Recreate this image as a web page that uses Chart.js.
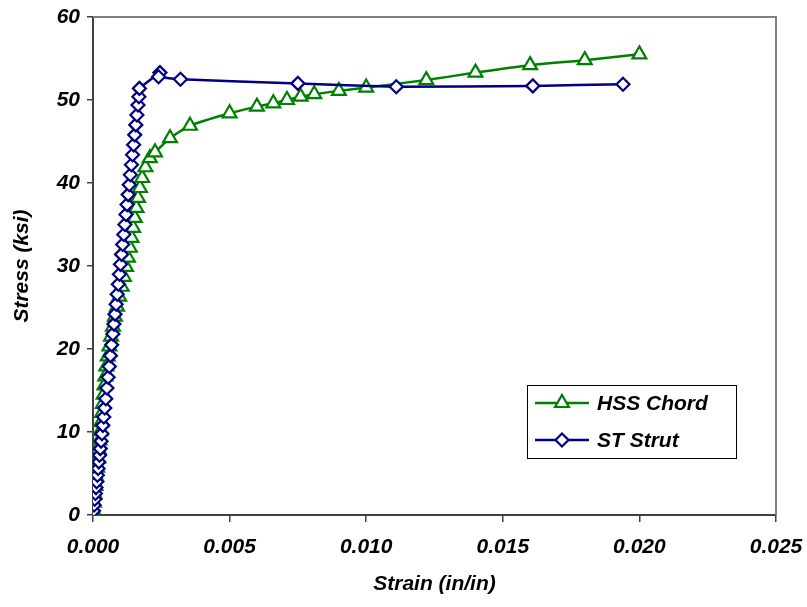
<!DOCTYPE html>
<html>
<head>
<meta charset="utf-8">
<script src="https://cdn.jsdelivr.net/npm/chart.js@4.4.1/dist/chart.umd.min.js"></script>
<style>
  html, body { margin: 0; padding: 0; background: #fff; }
  #wrap { width: 807px; height: 607px; }
</style>
</head>
<body>
<div id="wrap"><canvas id="stressChart"></canvas></div>
<script>
// HSS Chord readings (strain in/in, stress ksi)
const chordStrain = [0.00000, 0.00003, 0.00006, 0.00009, 0.00012, 0.00015, 0.00018, 0.00021, 0.00024, 0.00027,
    0.00030, 0.00033, 0.00036, 0.00039, 0.00042, 0.00045, 0.00049, 0.00054, 0.00060, 0.00066,
    0.00073, 0.00080, 0.00088, 0.00096, 0.00105, 0.00113, 0.00121, 0.00128, 0.00135, 0.00141,
    0.00147, 0.00153, 0.00159, 0.00165, 0.00172, 0.00180, 0.00192, 0.00208, 0.00227, 0.00282,
    0.00355, 0.0050, 0.0060, 0.0066, 0.0071, 0.0076, 0.0081, 0.0090, 0.0100, 0.0122,
    0.0140, 0.0160, 0.0180, 0.0200];
const chordStress = [0.6, 1.5, 2.5, 3.5, 4.6, 5.7, 6.8, 7.9, 9.0, 10.1,
    11.2, 12.3, 13.4, 14.5, 15.6, 16.7, 17.9, 19.1, 20.3, 21.5,
    22.7, 23.9, 25.1, 26.3, 27.5, 28.7, 29.9, 31.0, 32.2, 33.4,
    34.6, 35.8, 37.0, 38.2, 39.4, 40.6, 41.9, 43.0, 43.7, 45.4,
    46.9, 48.4, 49.2, 49.6, 50.0, 50.4, 50.7, 51.1, 51.5, 52.4,
    53.3, 54.2, 54.8, 55.5];

// ST Strut readings
const strutStrain = [0.000017, 0.00004, 0.000063, 0.000087, 0.00011, 0.000133, 0.00016, 0.000187, 0.000213, 0.00024,
    0.000267, 0.000297, 0.000327, 0.00036, 0.000393, 0.00043, 0.000467, 0.00051, 0.000553, 0.000597,
    0.00064, 0.000683, 0.000727, 0.000767, 0.000807, 0.000847, 0.000887, 0.000927, 0.000967, 0.001007,
    0.001047, 0.001087, 0.001127, 0.001167, 0.001207, 0.001247, 0.001287, 0.001327, 0.001367, 0.001407,
    0.001447, 0.001487, 0.001527, 0.001567, 0.001607, 0.001647, 0.00168, 0.0017, 0.00245, 0.00240,
    0.0032, 0.0075, 0.0111, 0.0161, 0.0194];
const strutStress = [0.5, 1.2, 1.9, 2.6, 3.3, 4.0, 4.8, 5.6, 6.4, 7.2,
    8.0, 8.9, 9.8, 10.8, 11.8, 12.9, 14.0, 15.3, 16.6, 17.9,
    19.2, 20.5, 21.8, 23.0, 24.2, 25.4, 26.6, 27.8, 29.0, 30.2,
    31.4, 32.6, 33.8, 35.0, 36.2, 37.4, 38.6, 39.8, 41.0, 42.2,
    43.4, 44.6, 45.8, 47.0, 48.2, 49.4, 50.4, 51.4, 53.3, 52.8,
    52.5, 52.0, 51.6, 51.7, 51.9];

const seriesNames = ['HSS Chord', 'ST Strut'];
const xTicks = [0, 0.005, 0.010, 0.015, 0.020, 0.025];
const yTicks = [0, 10, 20, 30, 40, 50, 60];

const FONT = "'Liberation Sans', Arial, sans-serif";
const GREEN = '#008000';
const NAVY = '#000080';

function pairs(xs, ys) {
    return xs.map((x, i) => ({ x: x, y: ys[i] }));
}

// gray frame on the top and right of the plot area
const frameBox = {
    id: 'frameBox',
    afterDraw(chart) {
        const a = chart.chartArea;
        const ctx = chart.ctx;
        ctx.save();
        ctx.strokeStyle = '#808080';
        ctx.lineWidth = 2;
        ctx.beginPath();
        ctx.moveTo(a.left, a.top);
        ctx.lineTo(a.right, a.top);
        ctx.lineTo(a.right, a.bottom);
        ctx.stroke();
        ctx.restore();
    }
};

function drawMarker(ctx, style, r, x, y) {
    if (style === 'triangle') {
        ctx.moveTo(x, y - r);
        ctx.lineTo(x + r * 0.866, y + r * 0.5);
        ctx.lineTo(x - r * 0.866, y + r * 0.5);
        ctx.closePath();
    } else {
        ctx.moveTo(x, y - r);
        ctx.lineTo(x + r, y);
        ctx.lineTo(x, y + r);
        ctx.lineTo(x - r, y);
        ctx.closePath();
    }
}

// legend box with line + marker samples, like the spreadsheet one
const boxLegend = {
    id: 'boxLegend',
    afterDraw(chart) {
        const ctx = chart.ctx;
        const bx = 527, by = 385, bw = 209, bh = 73;
        ctx.save();
        ctx.fillStyle = '#fff';
        ctx.fillRect(bx, by, bw, bh);
        ctx.strokeStyle = '#000';
        ctx.lineWidth = 1;
        ctx.strokeRect(bx + 0.5, by + 0.5, bw, bh);
        chart.data.datasets.forEach((ds, i) => {
            const y = by + 18 + i * 37;
            ctx.strokeStyle = ds.borderColor;
            ctx.lineWidth = 2.5;
            ctx.beginPath();
            ctx.moveTo(bx + 8, y);
            ctx.lineTo(bx + 62, y);
            ctx.stroke();
            ctx.fillStyle = '#fff';
            ctx.lineWidth = ds.pointBorderWidth;
            ctx.beginPath();
            drawMarker(ctx, ds.pointStyle, ds.pointRadius, bx + 35, y);
            ctx.fill();
            ctx.stroke();
            ctx.fillStyle = '#000';
            ctx.font = 'italic bold 21px ' + FONT;
            ctx.textBaseline = 'middle';
            ctx.textAlign = 'left';
            ctx.fillText(ds.label, bx + 70, y + 1);
        });
        ctx.restore();
    }
};

const tickFont = { family: FONT, size: 21, style: 'italic', weight: 'bold' };

new Chart(document.getElementById('stressChart'), {
    type: 'scatter',
    data: {
        datasets: [{
            label: seriesNames[0],
            data: pairs(chordStrain, chordStress),
            order: 1,
            showLine: true,
            borderColor: GREEN,
            borderWidth: 2.5,
            tension: 0.2,
            pointStyle: 'triangle',
            pointRadius: 8,
            pointBorderWidth: 2.2,
            pointBackgroundColor: '#fff',
            pointBorderColor: GREEN
        }, {
            label: seriesNames[1],
            data: pairs(strutStrain, strutStress),
            order: 0,
            showLine: true,
            borderColor: NAVY,
            borderWidth: 2.5,
            tension: 0.1,
            pointStyle: 'rectRot',
            pointRadius: 6.5,
            pointBorderWidth: 2.2,
            pointBackgroundColor: '#fff',
            pointBorderColor: NAVY
        }]
    },
    options: {
        responsive: true,
        maintainAspectRatio: false,
        animation: false,
        layout: { padding: { left: 0, top: 17, right: 31, bottom: 0 } },
        plugins: {
            legend: { display: false },
            tooltip: { enabled: false }
        },
        scales: {
            x: {
                type: 'linear',
                min: 0,
                max: 0.025,
                afterBuildTicks: (scale) => { scale.ticks = xTicks.map(v => ({ value: v })); },
                afterFit: (scale) => {
                    scale.height = 92;
                    scale.paddingLeft = 0;
                    scale.paddingRight = 0;
                },
                ticks: {
                    font: tickFont,
                    color: '#000',
                    padding: 13,
                    maxRotation: 0,
                    callback: (v) => v.toFixed(3)
                },
                grid: { drawOnChartArea: false, drawTicks: true, tickLength: 7, color: '#404040', lineWidth: 1.5 },
                border: { color: '#404040', width: 2 },
                title: {
                    display: true,
                    text: 'Strain (in/in)',
                    font: tickFont,
                    color: '#000',
                    padding: { top: 0, bottom: 10 }
                }
            },
            y: {
                type: 'linear',
                min: 0,
                max: 60,
                afterBuildTicks: (scale) => { scale.ticks = yTicks.map(v => ({ value: v })); },
                afterFit: (scale) => {
                    scale.width = 93;
                    scale.paddingTop = 0;
                    scale.paddingBottom = 0;
                },
                ticks: {
                    font: tickFont,
                    color: '#000',
                    padding: 7
                },
                grid: { drawOnChartArea: false, drawTicks: true, tickLength: 6, color: '#404040', lineWidth: 1.5 },
                border: { color: '#404040', width: 2 },
                title: {
                    display: true,
                    text: 'Stress (ksi)',
                    font: tickFont,
                    color: '#000',
                    padding: { top: 10, bottom: 0 }
                }
            }
        }
    },
    plugins: [frameBox, boxLegend]
});
</script>
</body>
</html>
